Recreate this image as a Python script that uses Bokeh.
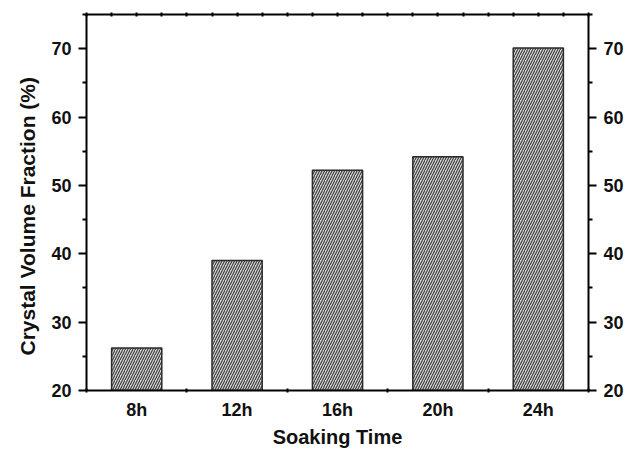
from bokeh.plotting import figure
from bokeh.models import LinearAxis, FixedTicker, Range1d, ColumnDataSource, Title
from bokeh.embed import file_html
from bokeh.resources import INLINE

categories = ["8h", "12h", "16h", "20h", "24h"]
values = [26.2, 39.0, 52.2, 54.2, 70.1]
y_ticks = [20, 30, 40, 50, 60, 70]
y_minor = [25, 35, 45, 55, 65, 75]

xs = list(range(1, len(categories) + 1))
src = ColumnDataSource(dict(x=xs, top=values, cat=categories))

FONT = "Liberation Sans"

p = figure(width=628, height=450, output_backend="svg", toolbar_location=None,
           x_range=Range1d(0.5, len(categories) + 0.5), y_range=Range1d(20, 75),
           min_border_left=86, min_border_right=40, min_border_top=14, min_border_bottom=60,
           x_axis_type=None, y_axis_type=None)
p.outline_line_color = None
p.xgrid.visible = False
p.ygrid.visible = False
p.background_fill_color = "white"
p.border_fill_color = "white"

p.vbar(x="x", top="top", bottom=20, width=0.5, source=src,
       fill_color="#d4d4d4", line_color="#2a2a2a", line_width=1.5,
       hatch_pattern="/", hatch_color="#3a3a3a", hatch_scale=5, hatch_weight=1.1)

def style_axis(ax):
    ax.axis_line_color = "black"
    ax.axis_line_width = 2
    ax.major_tick_line_color = "black"
    ax.major_tick_line_width = 2
    ax.minor_tick_line_color = "black"
    ax.minor_tick_line_width = 2
    ax.major_label_text_font = FONT
    ax.major_label_text_font_style = "bold"
    ax.major_label_text_color = "#111111"
    ax.axis_label_text_font = FONT
    ax.axis_label_text_font_style = "bold"
    ax.axis_label_text_color = "#111111"

# Bottom axis: labels at centers, tiny ticks at boundaries
xb = LinearAxis(ticker=FixedTicker(ticks=xs, minor_ticks=[i + 0.5 for i in range(0, len(xs) + 1)]),
                major_label_overrides={x: c for x, c in zip(xs, categories)},
                axis_label="Soaking Time")
style_axis(xb)
xb.major_tick_in = 0
xb.major_tick_out = 0
xb.minor_tick_in = 2
xb.minor_tick_out = 2
xb.major_label_text_font_size = "18px"
xb.major_label_standoff = 7
xb.axis_label_text_font_size = "20px"
xb.axis_label_standoff = 3
p.add_layout(xb, "below")

# Top axis: tiny ticks every quarter unit, no labels
top_ticks = [0.5 + 0.25 * i for i in range(4 * len(xs) + 1)]
xt = LinearAxis(ticker=FixedTicker(ticks=[], minor_ticks=top_ticks))
style_axis(xt)
xt.major_tick_in = 0
xt.major_tick_out = 0
xt.minor_tick_in = 2
xt.minor_tick_out = 2
xt.major_label_standoff = 0
p.add_layout(xt, "above")

# Left axis
yl = LinearAxis(ticker=FixedTicker(ticks=y_ticks, minor_ticks=y_minor))
style_axis(yl)
yl.major_tick_in = 0
yl.major_tick_out = 8
yl.minor_tick_in = 0
yl.minor_tick_out = 4
yl.major_label_text_font_size = "18px"
yl.major_label_standoff = 7
p.add_layout(yl, "left")

ytitle = Title(text="Crystal Volume Fraction (%)", align="left", offset=35, standoff=20,
               text_font=FONT, text_font_style="bold", text_font_size="21px",
               text_color="#111111")
p.add_layout(ytitle, "left")

# Right axis
yr = LinearAxis(ticker=FixedTicker(ticks=y_ticks, minor_ticks=y_minor))
style_axis(yr)
yr.major_tick_in = 0
yr.major_tick_out = 8
yr.minor_tick_in = 0
yr.minor_tick_out = 4
yr.major_label_text_font_size = "18px"
yr.major_label_standoff = 7
p.add_layout(yr, "right")

open("out.html", "w").write(file_html(p, INLINE))
